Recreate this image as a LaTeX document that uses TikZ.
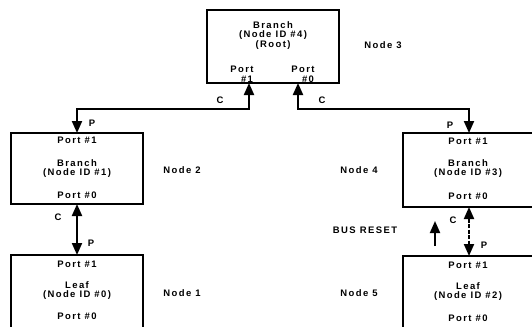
\documentclass[tikz,border=0pt]{standalone}
\usepackage{fontspec}
\setmainfont{Liberation Sans}[LetterSpace=15]
\usetikzlibrary{arrows.meta}
\begin{document}
\begin{tikzpicture}[x=1bp,y=-1bp,
  box/.style={draw,line width=2bp,minimum width=132bp,inner sep=0pt},
  txt/.style={font=\fontsize{9.5}{10}\selectfont\bfseries,inner sep=0pt,anchor=center},
  conn/.style={line width=2bp,{Triangle[width=10bp,length=12bp]}-{Triangle[width=10bp,length=12bp]}},
  oneway/.style={line width=2bp,-{Triangle[width=10bp,length=12bp]}}]
\clip (0,0) rectangle (532,326);
% boxes
\node[box,minimum height=73bp] (root) at (273,46.5) {};
\node[box,minimum height=71bp] (n2) at (77,168.5) {};
\node[box,minimum height=80bp] (n1) at (77,295) {};
\node[box,minimum height=74bp] (n4) at (469,170) {};
\node[box,minimum height=80bp] (n5) at (469,296) {};
% root texts
\node[txt] (r1) at (273,25) {Branch};
\node[txt] (r2) at (273,35) {(Node ID \#4)};
\node[txt] (r3) at (273,45) {(Root)};
\node[txt] (rp1a) at (242,69) {Port};
\node[txt] (rp1b) at (247,79) {\#1};
\node[txt] (rp0a) at (303,69) {Port};
\node[txt] (rp0b) at (308,79) {\#0};
\node[txt] (l3) at (383,45) {Node 3};
% node 2 texts
\node[txt] (a1) at (77,140) {Port \#1};
\node[txt] (a2) at (77,163) {Branch};
\node[txt] (a3) at (77,173) {(Node ID \#1)};
\node[txt] (a4) at (77,195) {Port \#0};
\node[txt] (l2) at (182,170) {Node 2};
% node 1 texts
\node[txt] (b1) at (77,264) {Port \#1};
\node[txt] (b2) at (77,285) {Leaf};
\node[txt] (b3) at (77,295) {(Node ID \#0)};
\node[txt] (b4) at (77,316) {Port \#0};
\node[txt] (l1) at (182,293) {Node 1};
% node 4 texts
\node[txt] (c1) at (468,141) {Port \#1};
\node[txt] (c2) at (468,163) {Branch};
\node[txt] (c3) at (468,173) {(Node ID \#3)};
\node[txt] (c4) at (468,196) {Port \#0};
\node[txt] (l4) at (359,170) {Node 4};
% node 5 texts
\node[txt] (d1) at (468,265) {Port \#1};
\node[txt] (d2) at (468,286) {Leaf};
\node[txt] (d3) at (468,296) {(Node ID \#2)};
\node[txt] (d4) at (468,318) {Port \#0};
\node[txt] (l5) at (359,293) {Node 5};
\node[txt] (br) at (365,230) {BUS RESET};
% coordinates
\coordinate (p1) at (249,83);
\coordinate (p0) at (298,83);
\coordinate (lvl) at (0,108.5);
\coordinate (n2t) at (77,133);
\coordinate (n4t) at (469,133);
\coordinate (bra) at (435,246);
\coordinate (brb) at (435,221);
% connectors
\draw[conn] (p1) -- (p1 |- lvl) -- (n2t |- lvl) -- (n2t);
\draw[conn] (p0) -- (p0 |- lvl) -- (n4t |- lvl) -- (n4t);
\draw[conn] (77,204) -- (77,255);
\draw[conn,dash pattern=on 4bp off 1.5bp] (469,207) -- (469,256);
\draw[oneway] (bra) -- (brb);
% labels
\node[txt] (cl1) at (220,100) {C};
\node[txt] (cl2) at (322,100) {C};
\node[txt] (pl1) at (92,123) {P};
\node[txt] (pl2) at (450,125) {P};
\node[txt] (cl3) at (58,217) {C};
\node[txt] (pl3) at (91,243) {P};
\node[txt] (cl4) at (453,220) {C};
\node[txt] (pl4) at (484,245) {P};
\end{tikzpicture}
\end{document}
